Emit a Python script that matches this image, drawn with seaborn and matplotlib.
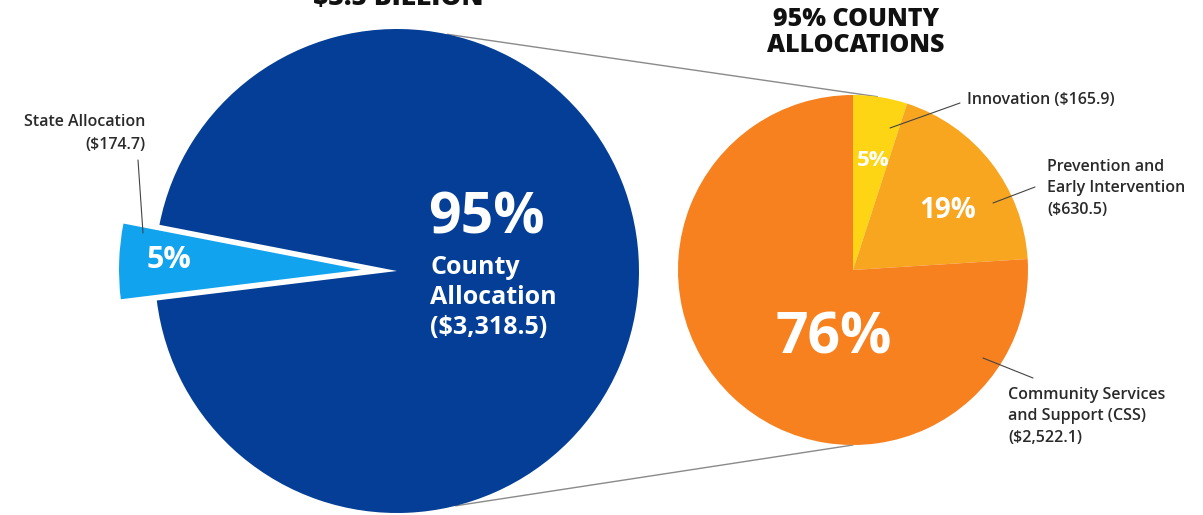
import matplotlib
matplotlib.use("Agg")
import matplotlib.pyplot as plt
import seaborn as sns
import numpy as np

# Mental health services funding split (values in $ millions)
total_label = "$3.5 BILLION"
split_names = ["State Allocation", "County Allocation"]
split_values = [174.7, 3318.5]
county_title = ["95% COUNTY", "ALLOCATIONS"]
county_names = ["Innovation", "Prevention and|Early Intervention", "Community Services|and Support (CSS)"]
county_values = [165.9, 630.5, 2522.1]

sns.set_theme(style="white")
plt.rcParams["font.family"] = ["Open Sans", "DejaVu Sans"]

split_colors = sns.color_palette(["#12A3EE", "#043E96"])
county_colors = sns.color_palette(["#FDD514", "#F8A620", "#F7811F"])
label_color = "#2a2a2a"

W, H = 1203, 515
fig = plt.figure(figsize=(W / 100, H / 100), dpi=100)
ax = fig.add_axes([0, 0, 1, 1])


def Y(y):
    """Convert a top-down pixel row to the axes' bottom-up y."""
    return H - y


def pct(values):
    v = np.asarray(values, dtype=float)
    return 100 * v / v.sum()


def money(v):
    return f"(${v:,.1f})"


# ---- left pie: state vs county ----
blue_c, blue_r = (397, Y(271)), 242
split_pct = pct(split_values)
state_mid = 178
ax.pie(split_values, colors=split_colors, radius=blue_r, center=blue_c,
       startangle=state_mid - 360 * split_pct[0] / 200, counterclock=True,
       explode=[36, 0], wedgeprops=dict(linewidth=0), frame=False)

# ---- right pie: county allocations ----
org_c, org_r = (853, Y(270)), 175
county_pct = pct(county_values)
ax.pie(county_values, colors=county_colors, radius=org_r, center=org_c,
       startangle=90, counterclock=False, wedgeprops=dict(linewidth=0), frame=False)


def on_circle(c, r, deg):
    a = np.deg2rad(deg)
    return c[0] + r * np.cos(a), c[1] + r * np.sin(a)


# connector lines between the two pies
for a1, a2 in [(78, 82), (-76, -90)]:
    p1 = on_circle(blue_c, blue_r, a1)
    p2 = on_circle(org_c, org_r, a2)
    ax.plot([p1[0], p2[0]], [p1[1], p2[1]], color="#8a8a8a", lw=1.0, zorder=0)

ax.set_xlim(0, W)
ax.set_ylim(0, H)
ax.set_aspect("auto")
ax.axis("off")


def txt(x, y, s, size, weight="bold", color="white", ha="center", va="center", **kw):
    ax.text(x, Y(y), s, fontsize=size, fontweight=weight, color=color,
            ha=ha, va=va, **kw)


def lines(x, y0, text, size, step, **kw):
    for i, ln in enumerate(text.split("|")):
        txt(x, y0 + i * step, ln, size, **kw)


def leader(x1, y1, x2, y2):
    ax.plot([x1, x2], [Y(y1), Y(y2)], color="#444444", lw=0.8, zorder=5)


# headings (the overall total sits at the very top edge)
txt(398, 5, total_label, 19, weight="heavy", color="#111111", va="baseline")
lines(856, 19, "|".join(county_title), 18, 26, weight="heavy", color="#111111")

# left pie labels
txt(169, 260, f"{split_pct[0]:.0f}%", 22)
txt(428, 219, f"{split_pct[1]:.0f}%", 41, ha="left")
lines(430, 267, "County|Allocation|" + money(split_values[1]), 18, 30, ha="left")
lines(145, 122, split_names[0] + "|" + money(split_values[0]), 11.5, 23,
      weight="semibold", color=label_color, ha="right")
leader(138, 160, 143, 233)

# right pie labels
txt(873, 160, f"{county_pct[0]:.0f}%", 16)
txt(948, 211, f"{county_pct[1]:.0f}%", 20)
txt(834, 338, f"{county_pct[2]:.0f}%", 41)

lines(967, 100, f"{county_names[0]} {money(county_values[0])}", 11.5, 22,
      weight="semibold", color=label_color, ha="left")
leader(890, 128, 960, 103)
lines(1047, 167, county_names[1] + "|" + money(county_values[1]), 11.5, 21.5,
      weight="semibold", color=label_color, ha="left")
leader(993, 203, 1035, 187)
lines(1008, 395, county_names[2] + "|" + money(county_values[2]), 11.5, 21.5,
      weight="semibold", color=label_color, ha="left")
leader(983, 358, 1033, 378)

fig.savefig("out.png", dpi=100, facecolor="white")
